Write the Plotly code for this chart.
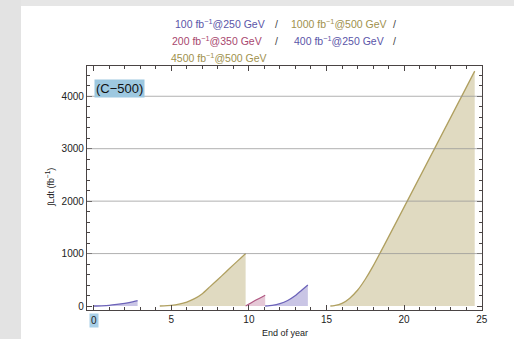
import plotly.graph_objects as go

# ---- data ----
s1_x = [0.0, 0.5, 1.0, 1.5, 2.0, 2.5, 2.83]
s1_y = [0, 4, 12, 30, 52, 78, 101]

s2_x = [4.26, 5.0, 5.5, 6.0, 6.5, 7.0, 7.5, 8.0, 8.5, 9.0, 9.5, 9.79]
s2_y = [0, 12, 35, 75, 140, 235, 370, 505, 645, 785, 920, 1000]

s3_x = [9.79, 10.4, 11.05]
s3_y = [0, 105, 205]

s4_x = [11.05, 11.5, 12.0, 12.5, 13.0, 13.4, 13.8]
s4_y = [0, 12, 45, 105, 200, 300, 402]

s5_x = [15.25, 15.5, 16.0, 16.5, 17.0, 17.5, 18.0, 24.55]
s5_y = [0, 8, 50, 150, 300, 510, 760, 4480]

legend_items = ["100 fb<sup>\u22121</sup>@250 GeV", "1000 fb<sup>\u22121</sup>@500 GeV",
                "200 fb<sup>\u22121</sup>@350 GeV", "400 fb<sup>\u22121</sup>@250 GeV",
                "4500 fb<sup>\u22121</sup>@500 GeV"]

x_ticks = [0, 5, 10, 15, 20, 25]
y_ticks = [0, 1000, 2000, 3000, 4000]
grid_vals = [1000, 2000, 3000, 4000]

BLUE_L = "rgb(108,99,185)"
BLUE_F = "rgba(108,99,185,0.37)"
OLIVE_L = "rgb(176,160,96)"
OLIVE_F = "rgba(176,160,96,0.39)"
MAG_L = "rgb(176,88,130)"
MAG_F = "rgba(176,88,130,0.33)"

FONT = "Liberation Sans, Arial, sans-serif"

fig = go.Figure()
for xs, ys, lc, fc in [(s1_x, s1_y, BLUE_L, BLUE_F), (s2_x, s2_y, OLIVE_L, OLIVE_F),
                       (s3_x, s3_y, MAG_L, MAG_F), (s4_x, s4_y, BLUE_L, BLUE_F),
                       (s5_x, s5_y, OLIVE_L, OLIVE_F)]:
    fig.add_trace(go.Scatter(x=xs, y=ys, mode="lines", fill="tozeroy",
                             line=dict(color=lc, width=1.3, shape="spline", smoothing=0.6),
                             fillcolor=fc, showlegend=False, hoverinfo="skip"))

W, H = 514, 339
L, R, T, B = 87, 32, 66, 29
pw, ph = W - L - R, H - T - B


def px2x(px):
    return (px - L) / pw


def py2y(py):
    return (H - B - py) / ph


shapes = []
# gray border strips
shapes.append(dict(type="rect", xref="paper", yref="paper", x0=px2x(0), x1=px2x(21),
                   y0=py2y(H), y1=py2y(0), fillcolor="#e3e3e3", line=dict(width=0), layer="below"))
shapes.append(dict(type="rect", xref="paper", yref="paper", x0=px2x(21), x1=px2x(W),
                   y0=py2y(6), y1=py2y(0), fillcolor="#e6e6e6", line=dict(width=0), layer="below"))
for g in grid_vals:
    shapes.append(dict(type="line", xref="paper", yref="y", x0=0, x1=1, y0=g, y1=g,
                       line=dict(color="rgba(150,150,150,0.75)", width=1), layer="above"))

annotations = []
# legend-like header
cols = [(173, 24, legend_items[0], "#5a55a8"), (289, 24, legend_items[1], "#a0914c"),
        (170, 41, legend_items[2], "#a8476e"), (292, 41, legend_items[3], "#5a55a8"),
        (169, 57, legend_items[4], "#a0914c")]
for px, py, txt, col in cols:
    annotations.append(dict(x=px2x(px), y=py2y(py), xref="paper", yref="paper", text=txt,
                            showarrow=False, xanchor="left", yanchor="middle",
                            font=dict(family=FONT, size=10.5, color=col)))
for px, py in [(276, 24), (394, 24), (276, 41), (394, 41)]:
    annotations.append(dict(x=px2x(px), y=py2y(py), xref="paper", yref="paper", text="/",
                            showarrow=False, xanchor="center", yanchor="middle",
                            font=dict(family=FONT, size=10.5, color="#444")))
# (C-500) label
annotations.append(dict(x=0, y=4140, xref="x", yref="y", text="(C\u2212500)", showarrow=False,
                        xanchor="left", yanchor="middle", bgcolor="#9dc8e0", borderpad=1,
                        font=dict(family=FONT, size=13, color="#111")))
# highlighted "0" x tick label
annotations.append(dict(x=0, y=py2y(313), xref="x", yref="paper", text="0", showarrow=False,
                        xanchor="center", yanchor="top", bgcolor="#a9d0e8", borderpad=1,
                        font=dict(family=FONT, size=10, color="#222")))
# axis titles
annotations.append(dict(x=px2x(285), y=py2y(333), xref="paper", yref="paper", text="End of year",
                        showarrow=False, xanchor="center", yanchor="middle",
                        font=dict(family=FONT, size=9, color="#222")))
annotations.append(dict(x=px2x(50), y=py2y(188), xref="paper", yref="paper",
                        text="\u222bLdt (fb<sup>\u22121</sup>)", textangle=-90,
                        showarrow=False, xanchor="center", yanchor="middle",
                        font=dict(family=FONT, size=9, color="#222")))

axis_common = dict(showline=True, linecolor="#4a4444", linewidth=1.3, mirror="allticks",
                   ticks="inside", ticklen=5, tickcolor="#4a4444", tickwidth=1,
                   showgrid=False, zeroline=False,
                   tickfont=dict(family=FONT, size=10, color="#222"))

fig.update_layout(
    width=W, height=H,
    margin=dict(l=L, r=R, t=T, b=B),
    paper_bgcolor="white", plot_bgcolor="rgba(0,0,0,0)",
    xaxis=dict(range=[-0.43, 25.02], tickvals=x_ticks,
               ticktext=["" if v == 0 else str(v) for v in x_ticks],
               minor=dict(dtick=1, ticks="inside", ticklen=3, tickcolor="#4a4444"),
               **axis_common),
    yaxis=dict(range=[-76, 4577], tickvals=y_ticks, ticktext=[str(v) for v in y_ticks],
               minor=dict(dtick=200, ticks="inside", ticklen=3, tickcolor="#4a4444"),
               **axis_common),
    shapes=shapes, annotations=annotations,
)
fig.write_html("out.html")
